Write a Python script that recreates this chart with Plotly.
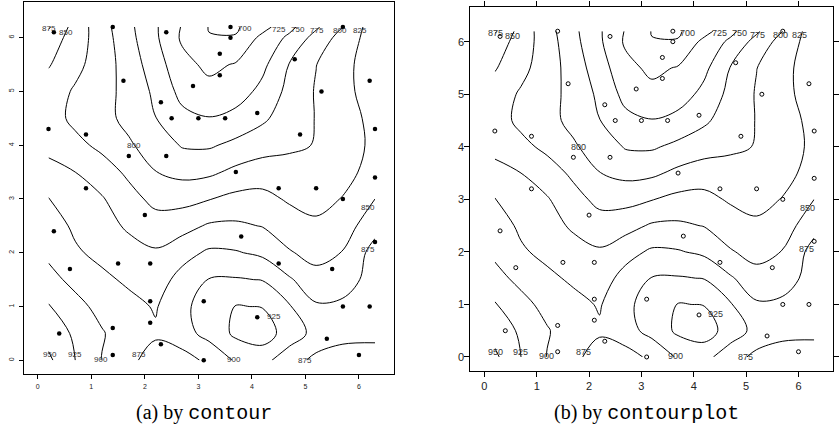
import plotly.graph_objects as go

# ---- topo observation points (x, y, elevation) ----
pt_x = [0.3, 1.4, 2.4, 3.6, 5.7, 1.6, 2.9, 3.4, 3.4, 4.8, 5.3, 6.2, 0.2, 0.9, 2.3, 2.5, 3.0, 3.5,
        4.1, 4.9, 6.3, 0.9, 1.7, 2.4, 3.7, 4.5, 5.2, 6.3, 0.3, 2.0, 3.8, 6.3, 0.6, 1.5, 2.1, 2.1,
        3.1, 4.5, 5.5, 5.7, 6.2, 0.4, 1.4, 1.4, 2.1, 2.3, 3.1, 4.1, 5.4, 6.0, 5.7, 3.6]
pt_y = [6.1, 6.2, 6.1, 6.2, 6.2, 5.2, 5.1, 5.3, 5.7, 5.6, 5.0, 5.2, 4.3, 4.2, 4.8, 4.5, 4.5, 4.5,
        4.6, 4.2, 4.3, 3.2, 3.8, 3.8, 3.5, 3.2, 3.2, 3.4, 2.4, 2.7, 2.3, 2.2, 1.7, 1.8, 1.8, 1.1,
        1.1, 1.8, 1.7, 1.0, 1.0, 0.5, 0.6, 0.1, 0.7, 0.3, 0.0, 0.8, 0.4, 0.1, 3.0, 6.0]

# ---- surface values ----
grid_x = [0.2, 0.7, 1.2, 1.7, 2.2, 2.7, 3.2, 3.7, 4.2, 4.7, 5.2, 5.7, 6.3]
grid_y = [0.0, 0.5, 1.0, 1.5, 2.0, 2.5, 3.0, 3.5, 4.0, 4.5, 5.0, 5.5, 6.0, 6.2]
z_y00 = [955, 925, 899, 880, 866, 864, 881, 903, 907, 887, 868, 860, 862]
z_y05 = [940, 921, 902, 886, 878, 891, 908, 930, 939, 912, 893, 885, 882]
z_y10 = [927, 908, 892, 882, 873, 894, 912, 926, 924, 902, 878, 880, 885]
z_y15 = [908, 893, 880, 871, 863, 884, 901, 902, 899, 878, 859, 864, 885]
z_y20 = [895, 878, 869, 860, 853, 866, 879, 877, 870, 852, 842, 851, 885]
z_y25 = [886, 871, 860, 846, 836, 841, 853, 854, 849, 837, 829, 838, 866]
z_y30 = [876, 862, 852, 834, 818, 817, 824, 832, 832, 822, 818, 826, 850]
z_y35 = [858, 850, 837, 820, 800.5, 793, 795, 806, 813, 809, 810, 818, 833]
z_y40 = [843, 832, 819, 803, 789, 773, 772, 781, 789, 796, 801, 814, 830]
z_y45 = [836, 819, 807, 794, 775.5, 757, 751, 758, 771, 787, 801, 816, 831]
z_y50 = [838, 822, 809, 792, 770, 742, 733, 738, 757, 782, 802, 819, 835]
z_y55 = [852, 832, 812, 789, 761, 733, 719, 727, 744, 776, 799.5, 818, 838]
z_y60 = [865, 838, 812, 783, 754, 721, 701, 701.5, 732, 755, 784, 810, 838]
z_y62 = [878, 840, 810, 781, 753, 723, 699, 697, 716, 743, 771, 800, 840]
grid_z = [z_y00, z_y05, z_y10, z_y15, z_y20, z_y25, z_y30, z_y35,
          z_y40, z_y45, z_y50, z_y55, z_y60, z_y62]

level_start, level_end, level_step = 700, 950, 25

# ---- contour labels ----
label_text = ["875", "850", "700", "725", "750", "775", "800", "825", "800", "850", "875",
              "925", "900", "875", "950", "925", "900", "875"]
label_x = [0.21, 0.53, 3.88, 4.50, 4.87, 5.21, 5.65, 6.02, 1.80, 6.17, 6.16,
           4.41, 3.66, 4.99, 0.22, 0.69, 1.18, 1.90]
label_y = [6.17, 6.10, 6.17, 6.16, 6.16, 6.13, 6.13, 6.13, 4.00, 2.84, 2.06,
           0.82, 0.02, 0.00, 0.10, 0.10, 0.02, 0.10]

ticks = [0, 1, 2, 3, 4, 5, 6]
captions = ["(a) by <span style=\"font-family:'Liberation Mono'\">contour</span>",
            "(b) by <span style=\"font-family:'Liberation Mono'\">contourplot</span>"]

W, H = 839, 434
fig = go.Figure()

for xa, ya in (("x", "y"), ("x2", "y2")):
    fig.add_trace(go.Contour(
        x=grid_x, y=grid_y, z=grid_z, xaxis=xa, yaxis=ya,
        contours=dict(coloring="none", start=level_start, end=level_end,
                      size=level_step, showlabels=False),
        line=dict(color="black", width=1, smoothing=1.0),
        showscale=False, hoverinfo="skip"))

fig.add_trace(go.Scatter(x=pt_x, y=pt_y, mode="markers", xaxis="x", yaxis="y",
                         marker=dict(size=4.5, color="black"), hoverinfo="skip"))
fig.add_trace(go.Scatter(x=pt_x, y=pt_y, mode="markers", xaxis="x2", yaxis="y2",
                         marker=dict(size=4, color="black", symbol="circle-open",
                                     line=dict(color="black", width=1)),
                         hoverinfo="skip"))

annots = []
for t, lx, ly in zip(label_text, label_x, label_y):
    annots.append(dict(x=lx, y=ly, xref="x", yref="y", text=t, showarrow=False,
                       xanchor="center", yanchor="middle",
                       font=dict(family="Liberation Sans, Arial", size=8, color="#333")))
    annots.append(dict(x=lx, y=ly, xref="x2", yref="y2", text=t, showarrow=False,
                       xanchor="center", yanchor="middle",
                       font=dict(family="Liberation Sans, Arial", size=9, color="#333")))

for cx, cap in zip((205 / W, 650 / W), captions):
    annots.append(dict(x=cx, y=1 - 413 / H, xref="paper", yref="paper", showarrow=False,
                       xanchor="center", yanchor="middle", text=cap,
                       font=dict(family="Liberation Serif, serif", size=20, color="black")))

axis_common = dict(showgrid=False, zeroline=False, showline=True, linecolor="black",
                   linewidth=1, tickvals=ticks, ticks="outside", tickcolor="black")

fig.update_layout(
    width=W, height=H, margin=dict(l=0, r=0, t=0, b=0),
    paper_bgcolor="white", plot_bgcolor="white", showlegend=False,
    xaxis=dict(domain=[24 / W, 396 / W], range=[-0.26, 6.657], anchor="y", mirror=True,
               ticklen=4, tickfont=dict(family="Liberation Sans, Arial", size=7, color="#222"),
               ticklabelstandoff=2, **axis_common),
    yaxis=dict(domain=[1 - 374 / H, 1 - 2.3 / H], range=[-0.255, 6.658], anchor="x", mirror=True,
               ticklen=4, tickangle=-90,
               tickfont=dict(family="Liberation Sans, Arial", size=7, color="#222"),
               ticklabelstandoff=2, **axis_common),
    xaxis2=dict(domain=[472.7 / W, 837.3 / W], range=[-0.266, 6.665], anchor="y2",
                mirror="ticks", ticklen=5,
                tickfont=dict(family="Liberation Sans, Arial", size=11, color="#222"),
                ticklabelstandoff=0, **axis_common),
    yaxis2=dict(domain=[1 - 370.7 / H, 1 - 6.7 / H], range=[-0.261, 6.666], anchor="x2",
                mirror="ticks", ticklen=5,
                tickfont=dict(family="Liberation Sans, Arial", size=11, color="#222"),
                ticklabelstandoff=-2, **axis_common),
    annotations=annots,
)

fig.write_html("out.html", config={"displayModeBar": False},
               post_script="document.body.style.margin='0';document.body.style.overflow='hidden';")
